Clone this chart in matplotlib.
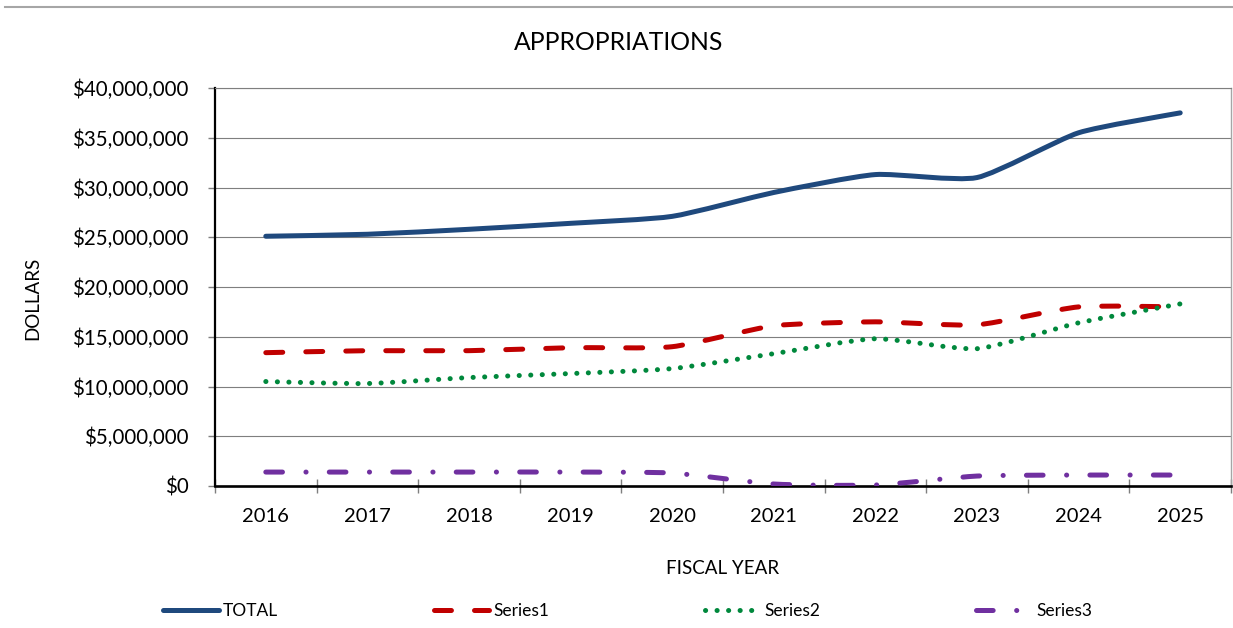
import matplotlib
matplotlib.use("Agg")
import matplotlib.pyplot as plt
from matplotlib.path import Path
from matplotlib.patches import PathPatch
from matplotlib.lines import Line2D
from matplotlib.ticker import FuncFormatter, FixedLocator

plt.rcParams['font.family'] = ['Lato', 'DejaVu Sans']
plt.rcParams['lines.scale_dashes'] = False

years = ['2016', '2017', '2018', '2019', '2020', '2021', '2022', '2023', '2024', '2025']
total = [25.1e6, 25.3e6, 25.8e6, 26.4e6, 27.1e6, 29.5e6, 31.3e6, 31.0e6, 35.5e6, 37.5e6]
series1 = [13.4e6, 13.6e6, 13.6e6, 13.9e6, 14.0e6, 16.1e6, 16.5e6, 16.2e6, 18.0e6, 18.0e6]
series2 = [10.5e6, 10.3e6, 10.9e6, 11.3e6, 11.8e6, 13.3e6, 14.8e6, 13.8e6, 16.4e6, 18.3e6]
series3 = [1.4e6, 1.4e6, 1.4e6, 1.4e6, 1.3e6, 0.2e6, 0.1e6, 1.0e6, 1.1e6, 1.1e6]


def smooth_path(xs, ys, k=10.0):
    # lightly smoothed line: cubic bezier through the points
    pts = list(zip(xs, ys))
    n = len(pts)
    verts = [pts[0]]
    codes = [Path.MOVETO]
    for i in range(n - 1):
        p0 = pts[i - 1] if i > 0 else pts[i]
        p1 = pts[i]
        p2 = pts[i + 1]
        p3 = pts[i + 2] if i + 2 < n else pts[i + 1]
        c1 = (p1[0] + (p2[0] - p0[0]) / k, p1[1] + (p2[1] - p0[1]) / k)
        c2 = (p2[0] - (p3[0] - p1[0]) / k, p2[1] - (p3[1] - p1[1]) / k)
        verts += [c1, c2, p2]
        codes += [Path.CURVE4] * 3
    return Path(verts, codes)


styles = [
    ('TOTAL', total, '#1F497D', 'solid'),
    ('Series1', series1, '#C00000', (0, (12.2, 16.6))),
    ('Series2', series2, '#00883C', (0, (0.1, 8.2))),
    ('Series3', series3, '#7030A0', (0, (12.0, 16.9, 0.1, 16.7))),
]

fig = plt.figure(figsize=(12.33, 6.28), dpi=100)
ax = fig.add_axes([215 / 1233, 1 - 486 / 628, 1016 / 1233, 398 / 628])

xs = list(range(len(years)))
handles = []
for name, vals, color, ls in styles:
    patch = PathPatch(smooth_path(xs, vals), facecolor='none', edgecolor=color,
                      lw=3.6, linestyle=ls, capstyle='round', joinstyle='round', zorder=3)
    ax.add_patch(patch)
    h = Line2D([], [], color=color, lw=3.6, linestyle=ls,
               solid_capstyle='round', dash_capstyle='round')
    handles.append(h)

ax.set_xlim(-0.5, len(years) - 0.5)
ax.set_ylim(0, 40e6)
ax.set_yticks([i * 5e6 for i in range(9)])
ax.yaxis.set_major_formatter(FuncFormatter(lambda v, p: '${:,.0f}'.format(v)))
ax.grid(axis='y', color='#7F7F7F', lw=0.8)
ax.set_axisbelow(True)

# ticks between categories, labels on categories
ax.xaxis.set_major_locator(FixedLocator([i - 0.5 for i in range(len(years) + 1)]))
ax.xaxis.set_major_formatter(FuncFormatter(lambda v, p: ''))
ax.xaxis.set_minor_locator(FixedLocator(xs))
ax.set_xticklabels(years, minor=True)
ax.tick_params(axis='x', which='major', direction='inout', length=10, color='#7F7F7F', width=1)
ax.tick_params(axis='x', which='minor', length=0, pad=16, labelsize=14.5)
ax.tick_params(axis='y', direction='out', length=5, color='#7F7F7F', width=1, pad=14, labelsize=14.8)

ax.spines['left'].set_color('black')
ax.spines['left'].set_linewidth(1.6)
ax.spines['bottom'].set_color('black')
ax.spines['bottom'].set_linewidth(1.9)
ax.spines['right'].set_color('#A6A6A6')
ax.spines['top'].set_color('#7F7F7F')
ax.spines['right'].set_linewidth(1)
ax.spines['top'].set_linewidth(0.8)

fig.text(619 / 1233, 1 - 42 / 628, 'APPROPRIATIONS', ha='center', va='center', fontsize=17.8)
fig.text(723 / 1233, 1 - 568 / 628, 'FISCAL YEAR', ha='center', va='center', fontsize=13.5)
fig.text(33 / 1233, 1 - 298 / 628, 'DOLLARS', ha='center', va='center', rotation=90, fontsize=13.5)

fig.add_artist(Line2D([5 / 1233, 1], [1 - 7 / 628, 1 - 7 / 628], color='#A6A6A6', lw=1.5))

fig.legend(handles, [s[0] for s in styles], loc='center left', ncol=4, mode='expand',
           bbox_to_anchor=(163 / 1233, 1 - 611 / 628, (1092 - 163) / 1233, 0.0),
           frameon=False, fontsize=12.5, handlelength=3.2, handletextpad=0.25,
           borderaxespad=0, borderpad=0)

fig.savefig('out.png', dpi=100)
